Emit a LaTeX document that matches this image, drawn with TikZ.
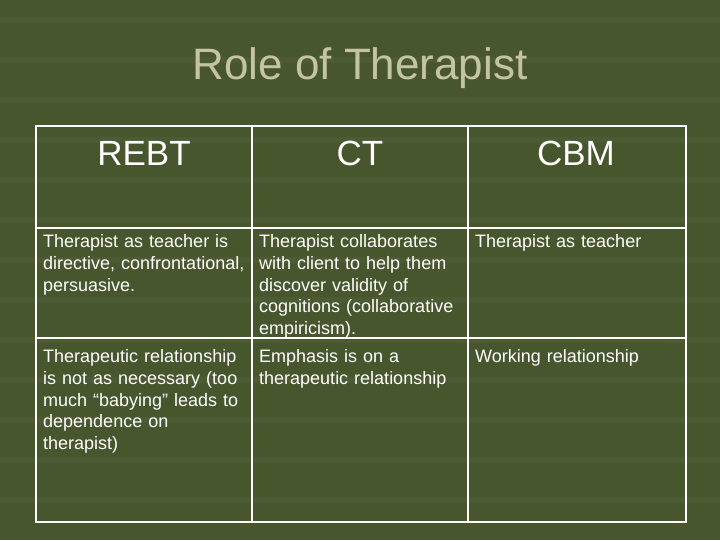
\documentclass[tikz,border=0pt]{standalone}
\usepackage{fontspec}
\setmainfont{Liberation Sans}
\definecolor{bg}{RGB}{72,86,46}
\definecolor{ttl}{RGB}{196,196,160}
\begin{document}
\begin{tikzpicture}[x=1pt,y=-1pt,
  cell/.style={anchor=north west,text width=212pt,align=left,inner sep=0pt,text=white,font=\fontsize{18}{21.7}\selectfont},
  head/.style={text=white,font=\fontsize{35}{40}\selectfont,anchor=center},
  grid/.style={draw=white,line width=1.6pt}]
\fill[bg] (0,0) rectangle (720,540);
\useasboundingbox (0,0) rectangle (720,540);
\foreach \y in {20,60,100,140,180,220,260,300,340,380,420,460,500}
  \draw[white,opacity=0.03,line width=6pt] (0,\y) -- (720,\y);
\node[text=ttl,font=\fontsize{44}{48}\selectfont] (title) at (360,68) {Role of Therapist};
\draw[grid] (36,126) rectangle (686,522);
\draw[grid] (36,228) -- (686,228);
\draw[grid] (36,338) -- (686,338);
\draw[grid] (252,126) -- (252,522);
\draw[grid] (468,126) -- (468,522);
\node[head] (h1) at (144,153) {REBT};
\node[head] (h2) at (360,153) {CT};
\node[head] (h3) at (576,153) {CBM};
\node[cell] (a1) at (43,234.5) {Therapist as teacher is\\directive, confrontational,\\persuasive.};
\node[cell] (a2) at (259,234.5) {Therapist collaborates\\with client to help them\\discover validity of\\cognitions (collaborative\\empiricism).};
\node[cell] (a3) at (475,234.5) {Therapist as teacher};
\node[cell] (b1) at (43,349.5) {Therapeutic relationship\\is not as necessary (too\\much “babying” leads to\\dependence on\\therapist)};
\node[cell] (b2) at (259,349.5) {Emphasis is on a\\therapeutic relationship};
\node[cell] (b3) at (475,349.5) {Working relationship};
\end{tikzpicture}
\end{document}
